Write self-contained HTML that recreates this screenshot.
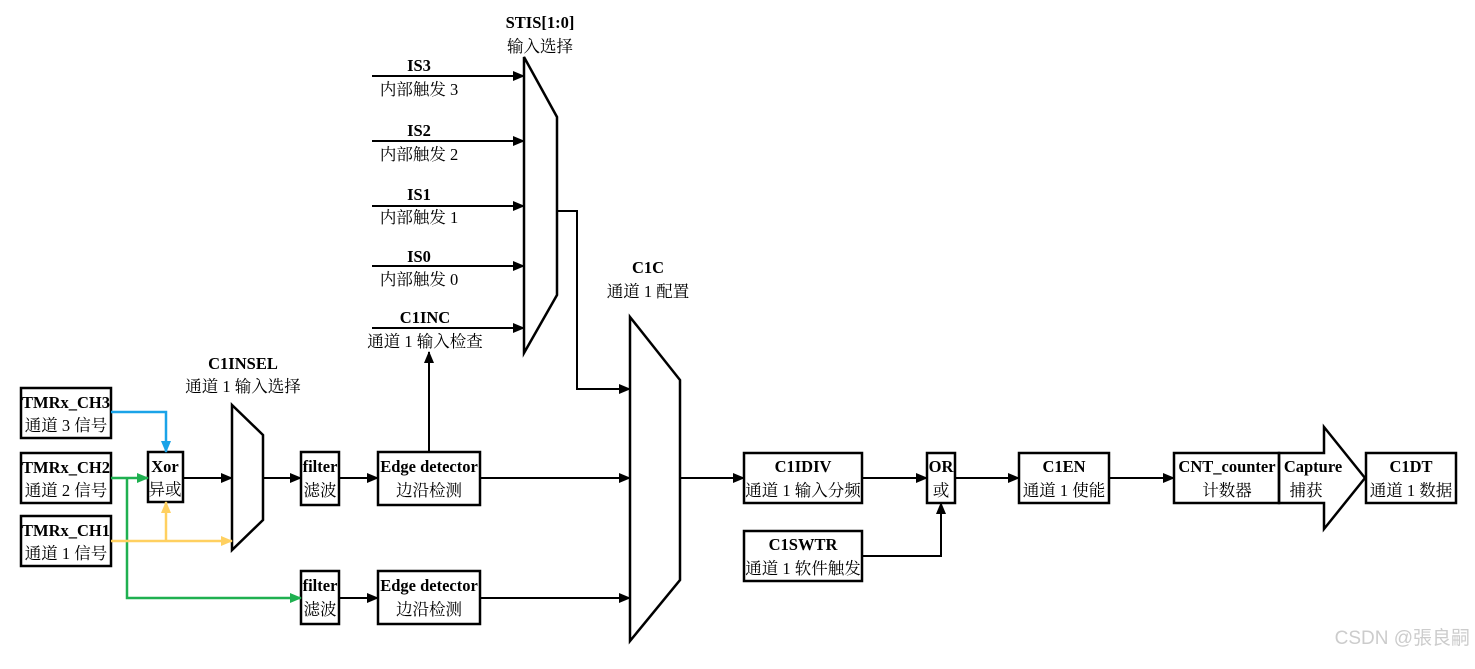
<!DOCTYPE html>
<html><head><meta charset="utf-8"><style>
body{margin:0;background:#fff}
text{font-family:"Liberation Serif","Noto Serif CJK SC",serif;font-size:16.5px;fill:#000;text-anchor:middle}
.b{font-weight:bold}
</style></head><body>
<svg width="1475" height="664" xmlns="http://www.w3.org/2000/svg">
<defs>
<marker id="a" markerWidth="12" markerHeight="10" refX="11" refY="5" orient="auto" markerUnits="userSpaceOnUse"><path d="M0,0L12,5L0,10z" fill="#000"/></marker>
<marker id="ab" markerWidth="12" markerHeight="10" refX="11" refY="5" orient="auto" markerUnits="userSpaceOnUse"><path d="M0,0L12,5L0,10z" fill="#1aa3e8"/></marker>
<marker id="ag" markerWidth="12" markerHeight="10" refX="11" refY="5" orient="auto" markerUnits="userSpaceOnUse"><path d="M0,0L12,5L0,10z" fill="#1fb050"/></marker>
<marker id="ay" markerWidth="12" markerHeight="10" refX="11" refY="5" orient="auto" markerUnits="userSpaceOnUse"><path d="M0,0L12,5L0,10z" fill="#ffd060"/></marker>
</defs>
<g fill="none" stroke="#000" stroke-width="2.5">
<rect x="21" y="388" width="90" height="50"/>
<rect x="21" y="453" width="90" height="50"/>
<rect x="21" y="516" width="90" height="50"/>
<rect x="148" y="452" width="35" height="50"/>
<polygon points="232,405 263,435 263,520 232,550"/>
<rect x="301" y="452" width="38" height="53"/>
<rect x="378" y="452" width="102" height="53"/>
<rect x="301" y="571" width="38" height="53"/>
<rect x="378" y="571" width="102" height="53"/>
<polygon points="524,57 557,117 557,295 524,353"/>
<polygon points="630,317 680,380 680,580 630,641"/>
<rect x="744" y="453" width="118" height="50"/>
<rect x="744" y="531" width="118" height="50"/>
<rect x="927" y="453" width="28" height="50"/>
<rect x="1019" y="453" width="90" height="50"/>
<rect x="1174" y="453" width="105" height="50"/>
<polygon points="1279,453 1324,453 1324,427 1365,478 1324,529 1324,503 1279,503"/>
<rect x="1366" y="453" width="90" height="50"/>
</g>
<g fill="none" stroke="#000" stroke-width="2" marker-end="url(#a)">
<line x1="372" y1="76" x2="524" y2="76"/>
<line x1="372" y1="141" x2="524" y2="141"/>
<line x1="372" y1="206" x2="524" y2="206"/>
<line x1="372" y1="266" x2="524" y2="266"/>
<line x1="372" y1="328" x2="524" y2="328"/>
<polyline points="557,211 577,211 577,389 630,389"/>
<line x1="429" y1="452" x2="429" y2="352"/>
<line x1="480" y1="478" x2="630" y2="478"/>
<line x1="480" y1="598" x2="630" y2="598"/>
<line x1="183" y1="478" x2="232" y2="478"/>
<line x1="263" y1="478" x2="301" y2="478"/>
<line x1="339" y1="478" x2="378" y2="478"/>
<line x1="339" y1="598" x2="378" y2="598"/>
<line x1="680" y1="478" x2="744" y2="478"/>
<line x1="862" y1="478" x2="927" y2="478"/>
<polyline points="862,556 941,556 941,503"/>
<line x1="955" y1="478" x2="1019" y2="478"/>
<line x1="1109" y1="478" x2="1174" y2="478"/>
</g>
<g fill="none" stroke-width="2.5">
<polyline points="111,412 166,412 166,452" stroke="#1aa3e8" marker-end="url(#ab)"/>
<line x1="111" y1="478" x2="148" y2="478" stroke="#1fb050" marker-end="url(#ag)"/>
<polyline points="127,478 127,598 301,598" stroke="#1fb050" marker-end="url(#ag)"/>
<line x1="111" y1="541" x2="232" y2="541" stroke="#ffd060" marker-end="url(#ay)"/>
<line x1="166" y1="541" x2="166" y2="502" stroke="#ffd060" marker-end="url(#ay)"/>
</g>
<text class="b" x="540" y="28">STIS[1:0]</text><text x="540" y="52">输入选择</text>
<text class="b" x="419" y="71">IS3</text><text x="419" y="95">内部触发 3</text>
<text class="b" x="419" y="136">IS2</text><text x="419" y="160">内部触发 2</text>
<text class="b" x="419" y="200">IS1</text><text x="419" y="223">内部触发 1</text>
<text class="b" x="419" y="262">IS0</text><text x="419" y="285">内部触发 0</text>
<text class="b" x="425" y="323">C1INC</text><text x="425" y="347">通道 1 输入检查</text>
<text class="b" x="648" y="273">C1C</text><text x="648" y="297">通道 1 配置</text>
<text class="b" x="243" y="369">C1INSEL</text><text x="243" y="392">通道 1 输入选择</text>
<text class="b" x="66" y="408">TMRx_CH3</text><text x="66" y="431">通道 3 信号</text>
<text class="b" x="66" y="473">TMRx_CH2</text><text x="66" y="496">通道 2 信号</text>
<text class="b" x="66" y="536">TMRx_CH1</text><text x="66" y="559">通道 1 信号</text>
<text class="b" x="165" y="472">Xor</text><text x="165" y="495">异或</text>
<text class="b" x="320" y="472">filter</text><text x="320" y="496">滤波</text>
<text class="b" x="429" y="472">Edge detector</text><text x="429" y="496">边沿检测</text>
<text class="b" x="320" y="591">filter</text><text x="320" y="615">滤波</text>
<text class="b" x="429" y="591">Edge detector</text><text x="429" y="615">边沿检测</text>
<text class="b" x="803" y="472">C1IDIV</text><text x="803" y="496">通道 1 输入分频</text>
<text class="b" x="803" y="550">C1SWTR</text><text x="803" y="574">通道 1 软件触发</text>
<text class="b" x="941" y="472">OR</text><text x="941" y="496">或</text>
<text class="b" x="1064" y="472">C1EN</text><text x="1064" y="496">通道 1 使能</text>
<text class="b" x="1227" y="472">CNT_counter</text><text x="1227" y="496">计数器</text>
<text class="b" x="1313" y="472">Capture</text><text x="1306" y="496">捕获</text>
<text class="b" x="1411" y="472">C1DT</text><text x="1411" y="496">通道 1 数据</text>
<text x="1470" y="644" style="font-family:'Liberation Sans','Noto Sans CJK SC',sans-serif;font-size:19px;fill:#ccc;text-anchor:end">CSDN @張良嗣</text>
</svg>
</body></html>
